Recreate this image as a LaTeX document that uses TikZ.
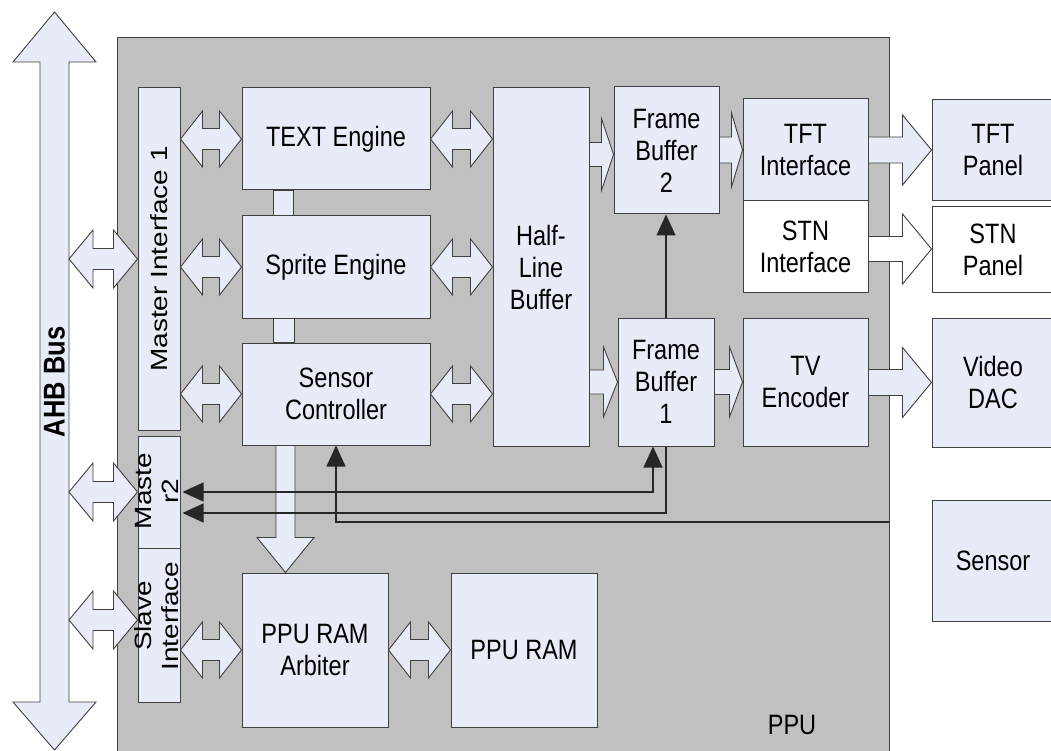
\documentclass[tikz,border=0pt]{standalone}
\usepackage{fontspec}
\setmainfont{Liberation Sans}[FakeStretch=0.84]
\newfontfamily\vfont{Liberation Sans}[FakeStretch=1.19]
\newfontfamily\busfont{Liberation Sans}[FakeStretch=0.85]
\usetikzlibrary{calc,arrows.meta}

\definecolor{boxfill}{RGB}{232,236,248}
\definecolor{ppugray}{RGB}{192,192,192}
\definecolor{edge}{RGB}{64,64,64}

\tikzset{
  unit/.style={draw=edge, line width=1pt, fill=boxfill, inner sep=0pt, align=center,
    font=\fontsize{28}{32}\selectfont},
  wunit/.style={unit, fill=white},
  vlabel/.style={inner sep=0pt, align=center, rotate=90, font=\vfont\fontsize{23.5}{27}\selectfont},
  bus/.style={draw=edge, line width=0.9pt, fill=boxfill},
  wbus/.style={bus, fill=white},
  sig/.style={draw=black!85, line width=1.2pt},
  tip/.style={-{Triangle[length=21pt,width=19pt]}},
}

% horizontal double block arrow: left end, right end, head length, head half height, shaft half height
\newcommand\dblarrow[5]{%
  \path[bus] let \p1=#1, \p2=#2 in
    (\x1,\y1) -- ({\x1+#3pt},{\y1+#4pt}) -- ({\x1+#3pt},{\y1+#5pt})
    -- ({\x2-#3pt},{\y1+#5pt}) -- ({\x2-#3pt},{\y1+#4pt}) -- (\x2,\y1)
    -- ({\x2-#3pt},{\y1-#4pt}) -- ({\x2-#3pt},{\y1-#5pt})
    -- ({\x1+#3pt},{\y1-#5pt}) -- ({\x1+#3pt},{\y1-#4pt}) -- cycle;}

% horizontal single block arrow: style, start, tip, head length, head half height, shaft half height
\newcommand\rarrow[6]{%
  \path[#1] let \p1=#2, \p2=#3 in
    (\x1,{\y2+#6pt}) -- ({\x2-#4pt},{\y2+#6pt}) -- ({\x2-#4pt},{\y2+#5pt})
    -- (\x2,\y2) -- ({\x2-#4pt},{\y2-#5pt}) -- ({\x2-#4pt},{\y2-#6pt})
    -- (\x1,{\y2-#6pt}) -- cycle;}

\begin{document}
\begin{tikzpicture}[x=1pt,y=-1pt]
\useasboundingbox (0,0) rectangle (1051,751);
\clip (0,0) rectangle (1051,751);

% PPU block
\node[draw=edge, line width=1pt, fill=ppugray, inner sep=0pt, anchor=north west,
  minimum width=772pt, minimum height=740pt] (ppu) at (117,37) {};
\node[font=\fontsize{28}{32}\selectfont] (ppulbl) at (792,725) {PPU};

% AHB bus
\path[bus] (54.5,12) -- (96,62) -- (69,62) -- (69,702) -- (96,702) -- (54.5,750)
  -- (13,702) -- (40,702) -- (40,62) -- (13,62) -- cycle;
\node[vlabel, font=\busfont\bfseries\fontsize{30}{34}\selectfont] (ahb) at (54.5,382) {AHB Bus};
\coordinate (busR) at (69,0);

% bus interfaces
\node[unit, minimum width=42pt, minimum height=342pt] (mi1) at (159,259) {};
\node[vlabel] (mi1t) at (mi1) {Master Interface 1};
\node[unit, minimum width=42pt, minimum height=112pt] (m2) at (159,492) {};
\node[vlabel] (m2t) at (157,491) {Maste\\r2};
\node[unit, minimum width=42pt, minimum height=154pt] (si) at (159,625) {};
\node[vlabel] (sit) at (157,616) {Slave\\Interface};

% engines
\node[unit, minimum width=188pt, minimum height=102pt] (te) at (336,139) {TEXT Engine};
\node[unit, minimum width=188pt, minimum height=102pt] (spe) at (336,267) {Sprite Engine};
\node[unit, minimum width=188pt, minimum height=102pt] (sc) at (336,394) {Sensor\\Controller};
\path[bus] ($(te.south west)+(32,0)$) rectangle ($(spe.north west)+(52,0)$);
\path[bus] ($(spe.south west)+(32,0)$) rectangle ($(sc.north west)+(53,0)$);

% buffers
\node[unit, minimum width=96pt, minimum height=358pt] (hlb) at (541,267) {Half-\\Line\\Buffer};
\node[unit, minimum width=105pt, minimum height=127pt] (fb2) at (666.5,150.5) {Frame\\Buffer\\2};
\node[unit, minimum width=96pt, minimum height=128pt] (fb1) at (666,382) {Frame\\Buffer\\1};

% display interfaces
\node[unit, minimum width=125pt, minimum height=102pt] (tfti) at (805.5,150) {TFT\\Interface};
\node[wunit, minimum width=125pt, minimum height=91pt] (stni) at (805.5,246.5) {STN\\Interface};
\node[unit, minimum width=125pt, minimum height=128pt] (tve) at (805.5,382) {TV\\Encoder};

% external devices
\node[unit, minimum width=122pt, minimum height=101pt] (tftp) at (993,150) {TFT\\Panel};
\node[wunit, minimum width=122pt, minimum height=85pt] (stnp) at (993,249.5) {STN\\Panel};
\node[unit, minimum width=122pt, minimum height=129pt] (vdac) at (993,382.5) {Video\\DAC};
\node[unit, minimum width=122pt, minimum height=121pt] (sensor) at (993,560.5) {Sensor};

% memory
\node[unit, minimum width=146pt, minimum height=154pt] (arb) at (315,650) {PPU RAM\\Arbiter};
\node[unit, minimum width=146pt, minimum height=154pt] (ram) at (524,650) {PPU RAM};

% bus to interfaces
\dblarrow{(busR |- mi1.west)}{(mi1.west)}{24}{29}{10.5}
\dblarrow{(busR |- m2.west)}{(m2.west)}{24}{29}{10.5}
\dblarrow{($(busR |- si.west)+(0,-5)$)}{(si.west)}{24}{29}{10.5}

% interfaces to engines and arbiter
\dblarrow{(mi1.east |- te.west)}{(te.west)}{22}{28}{10.5}
\dblarrow{(mi1.east |- spe.west)}{(spe.west)}{22}{28}{10.5}
\dblarrow{(mi1.east |- sc.west)}{(sc.west)}{22}{28}{10.5}
\dblarrow{(si.east |- arb.west)}{(arb.west)}{22}{28}{10.5}
\dblarrow{(arb.east)}{(ram.west)}{22}{28}{10.5}

% engines to half-line buffer
\dblarrow{(te.east)}{(hlb.west |- te.east)}{22}{28}{10.5}
\dblarrow{(spe.east)}{(hlb.west |- spe.east)}{22}{28}{10.5}
\dblarrow{(sc.east)}{(hlb.west |- sc.east)}{22}{28}{10.5}

% sensor controller to arbiter
\path[bus] let \p1=($(sc.south)+(-50.5,0)$), \p2=(arb.north) in
  ({\x1-9.5pt},\y1) -- ({\x1-9.5pt},{\y2+35pt}) -- ({\x1-28.5pt},{\y2+35pt})
  -- (\x1,\y2) -- ({\x1+28.5pt},{\y2+35pt}) -- ({\x1+9.5pt},{\y2+35pt})
  -- ({\x1+9.5pt},\y1) -- cycle;

% data flow to the displays
\rarrow{bus}{(hlb.east)}{($(fb2.west)+(0,4)$)}{12}{36}{12}
\rarrow{bus}{(hlb.east)}{(fb1.west)}{14}{35}{12}
\rarrow{bus}{(fb2.east)}{(tfti.west)}{11}{37}{13}
\rarrow{bus}{(fb1.east)}{(tve.west)}{13}{35}{12.5}
\rarrow{bus}{(tfti.east)}{(tftp.west)}{29}{35}{13}
\rarrow{wbus}{(stni.east)}{($(stnp.west)+(0,-0.5)$)}{29}{35}{12.5}
\rarrow{bus}{(tve.east)}{(vdac.west)}{29}{35}{13}

% control signals
\draw[sig, tip] (fb1.north) -- (fb1.north |- fb2.south);
\draw[sig, {Triangle[length=21pt,width=19pt]}-{Triangle[length=21pt,width=19pt]}]
  ([xshift=2pt]m2.east) -| ($(fb1.south)+(-13,0)$);
\draw[sig, tip] (fb1.south) |- ($(m2.east)+(2,21)$);
\coordinate (sensin) at (889,522);
\draw[sig, tip] (sensin) -| (sc.south);
\end{tikzpicture}
\end{document}
